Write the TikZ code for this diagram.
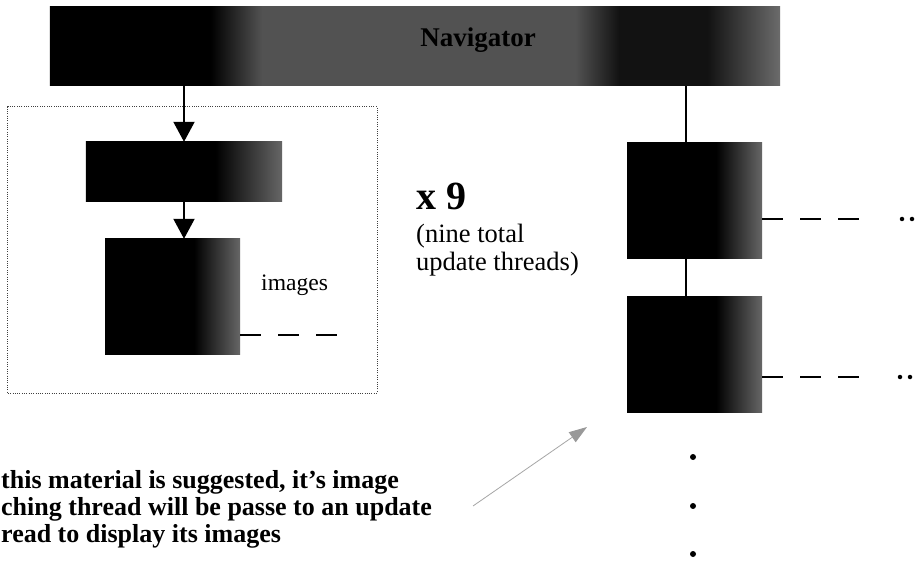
\documentclass[tikz,border=0pt]{standalone}
\usepackage{fontspec}
\setmainfont{Liberation Serif}
\usetikzlibrary{arrows.meta}
\pgfdeclarehorizontalshading{boxshade}{100bp}{color(0bp)=(black); color(58bp)=(black); color(75bp)=(black!60); color(100bp)=(black!60)}
\pgfdeclarehorizontalshading{barshade}{100bp}{color(0bp)=(black); color(36bp)=(black); color(39.5bp)=(black!68); color(61bp)=(black!68); color(64bp)=(black!93); color(70bp)=(black!93); color(75bp)=(black!58); color(100bp)=(black!58)}
\tikzset{
  blk/.style={rectangle, inner sep=0pt, draw=none, shading=boxshade},
  barbox/.style={rectangle, inner sep=0pt, draw=none, shading=barshade},
  arr/.style={line width=2bp, -{Triangle[length=20bp,width=21bp]}},
  conn/.style={line width=1.8bp},
  dashline/.style={line width=1.6bp, dash pattern=on 21bp off 17bp},
  dotbox/.style={line width=1bp, draw=black!75, dash pattern=on 1bp off 1.3bp},
  lbl/.style={inner sep=0pt, anchor=base west},
  grayarr/.style={line width=0.8bp, draw=black!35, -{Triangle[length=18bp,width=12bp,color=black!40,fill=black!40]}},
  dotmark/.style={circle, fill=black, inner sep=0pt, minimum size=6bp}
}
\begin{document}
\begin{tikzpicture}[x=1bp,y=-1bp]
\useasboundingbox[fill=white] (0,0) rectangle (916,564);
% top bar
\node[barbox, minimum width=730bp, minimum height=79bp] (nav) at (415,46.5) {};
\node[inner sep=0pt, font=\fontsize{27bp}{28bp}\selectfont\bfseries] (navtxt) at (478,40) {Navigator};
% left dotted group
\node[dotbox, draw, rectangle, inner sep=0pt, minimum width=369bp, minimum height=286bp] (grp) at (192.5,250) {};
\node[blk, minimum width=196bp, minimum height=60bp] (A) at (184,172) {};
\node[blk, minimum width=135bp, minimum height=115bp] (B) at (172.5,296.5) {};
\draw[arr] (nav.south -| A.north) -- (A.north);
\draw[arr] (A.south) -- (A.south |- B.north);
\coordinate (bend) at (338,335);
\draw[dashline] (B.east |- bend) -- (bend);
\node[lbl, font=\fontsize{23.6bp}{25bp}\selectfont] (img) at (261,290) {images};
% x 9 text
\node[lbl, font=\fontsize{40bp}{42bp}\selectfont\bfseries] (x9) at (416,210) {x 9};
\node[lbl, align=left, font=\fontsize{26.5bp}{28bp}\selectfont] (nine) at (416,271) {(nine total\\update threads)};
% right column
\node[blk, minimum width=135bp, minimum height=115bp] (C) at (694.5,200.5) {};
\node[blk, minimum width=135bp, minimum height=115bp] (D) at (694.5,354.5) {};
\coordinate (ctop) at (686,143);
\draw[conn] (nav.south -| ctop) -- (C.north -| ctop);
\draw[conn] (C.south -| ctop) -- (D.north -| ctop);
\coordinate (c1) at (860,219);
\coordinate (d1) at (860,377);
\draw[dashline] (C.east |- c1) -- (c1);
\draw[dashline] (D.east |- d1) -- (d1);
\node[dotmark, minimum size=4.5bp] (c1a) at (902,219) {};
\node[dotmark, minimum size=4.5bp] (c1b) at (912,219) {};
\node[dotmark, minimum size=4.5bp] (d1a) at (900,377) {};
\node[dotmark, minimum size=4.5bp] (d1b) at (910,377) {};
\node[dotmark] (v1) at (693,457) {};
\node[dotmark] (v2) at (693,506) {};
\node[dotmark] (v3) at (693,554) {};
% note and gray arrow
\coordinate (gs) at (473,506);
\coordinate (ge) at (587,427);
\draw[grayarr] (gs) -- (ge);
\node[lbl, align=left, font=\fontsize{26bp}{27bp}\selectfont\bfseries] (note) at (1,542) {this material is suggested, it’s image\\ching thread will be passe to an update\\read to display its images};
\end{tikzpicture}
\end{document}
